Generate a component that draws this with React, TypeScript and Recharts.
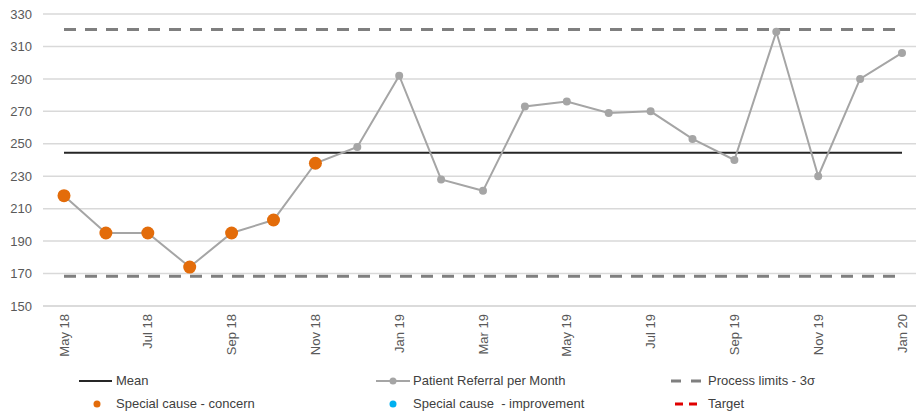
import {
  CartesianGrid,
  Legend,
  Line,
  LineChart,
  XAxis,
  YAxis,
} from 'recharts';

const months = [
  'May 18', 'Jun 18', 'Jul 18', 'Aug 18', 'Sep 18', 'Oct 18', 'Nov 18',
  'Dec 18', 'Jan 19', 'Feb 19', 'Mar 19', 'Apr 19', 'May 19', 'Jun 19',
  'Jul 19', 'Aug 19', 'Sep 19', 'Oct 19', 'Nov 19', 'Dec 19', 'Jan 20',
];
const referrals = [
  218, 195, 195, 174, 195, 203, 238, 248, 292, 228, 221, 273, 276, 269,
  270, 253, 240, 319, 230, 290, 306,
];
// special cause (concern) flags the first run of 7 months below the mean
const concern: (number | null)[] = [
  218, 195, 195, 174, 195, 203, 238, null, null, null, null, null, null, null,
  null, null, null, null, null, null, null,
];
const meanValue = 244.4;
const upperLimit = 320.5;
const lowerLimit = 168.3;
const yTicks = [150, 170, 190, 210, 230, 250, 270, 290, 310, 330];

const data = months.map((month, i) => ({
  month,
  referrals: referrals[i],
  concern: concern[i],
  mean: meanValue,
  upper: upperLimit,
  lower: lowerLimit,
}));

const FONT = '"Liberation Sans", Arial, sans-serif';
const TEXT = '#595959';

function MonthTick(props: any) {
  const { x, y, payload } = props;
  return (
    <text
      x={x}
      y={y}
      transform={`rotate(-90 ${x} ${y})`}
      textAnchor="end"
      dy="0.35em"
      fill={TEXT}
      fontSize={13}
      fontFamily={FONT}
    >
      {payload.value}
    </text>
  );
}

function LegendIcon({ kind }: { kind: string }) {
  return (
    <svg width={34} height={12} style={{ position: 'absolute', left: 0, top: -6 }}>
      {kind === 'mean' && <line x1={0} y1={6} x2={33} y2={6} stroke="#262626" strokeWidth={2} />}
      {kind === 'series' && (
        <>
          <line x1={0} y1={6} x2={34} y2={6} stroke="#a5a5a5" strokeWidth={2} />
          <circle cx={17} cy={6} r={3.5} fill="#a5a5a5" />
        </>
      )}
      {kind === 'limits' && (
        <line x1={1} y1={6} x2={34} y2={6} stroke="#7f7f7f" strokeWidth={3} strokeDasharray="10 10" />
      )}
      {kind === 'concern' && <circle cx={18} cy={6} r={3.5} fill="#e36c0a" />}
      {kind === 'improvement' && <circle cx={17} cy={6} r={3.5} fill="#00b0f0" />}
      {kind === 'target' && (
        <line x1={5} y1={6} x2={28} y2={6} stroke="#e00000" strokeWidth={3} strokeDasharray="8 6" />
      )}
    </svg>
  );
}

const legendItems = [
  { label: 'Mean', kind: 'mean', left: 79, top: 15 },
  { label: 'Patient Referral per Month', kind: 'series', left: 376, top: 15 },
  { label: 'Process limits - 3σ', kind: 'limits', left: 670, top: 15 },
  { label: 'Special cause - concern', kind: 'concern', left: 79, top: 38 },
  { label: 'Special cause  - improvement', kind: 'improvement', left: 376, top: 38 },
  { label: 'Target', kind: 'target', left: 670, top: 38 },
];

function ChartLegend() {
  return (
    <div style={{ position: 'relative', width: 918, height: 48, fontFamily: FONT, fontSize: 13, color: '#404040' }}>
      {legendItems.map((item) => (
        <div key={item.label} style={{ position: 'absolute', left: item.left, top: item.top }}>
          <LegendIcon kind={item.kind} />
          <span
            style={{
              position: 'absolute',
              left: item.kind === 'limits' || item.kind === 'target' ? 38 : 37,
              top: -8,
              whiteSpace: 'pre',
              lineHeight: '16px',
            }}
          >
            {item.label}
          </span>
        </div>
      ))}
    </div>
  );
}

export default function App() {
  return (
    <div style={{ position: 'absolute', left: 0, top: 0, width: 918, height: 414, background: '#fff' }}>
      <LineChart width={918} height={414} data={data} margin={{ top: 14, right: 2, bottom: 0, left: 0 }}>
        <CartesianGrid vertical={false} stroke="#d9d9d9" strokeWidth={1.5} />
        <XAxis
          dataKey="month"
          interval={1}
          height={60}
          tickLine={false}
          axisLine={{ stroke: '#d9d9d9', strokeWidth: 1.5 }}
          padding={{ left: 21, right: 14 }}
          tick={<MonthTick />}
        />
        <YAxis
          domain={[150, 330]}
          ticks={yTicks}
          width={43}
          tickLine={false}
          axisLine={false}
          tickMargin={5}
          tick={{ fill: TEXT, fontSize: 13, fontFamily: FONT }}
        />
        <Legend verticalAlign="bottom" wrapperStyle={{ left: 0, width: 918 }} content={() => <ChartLegend />} />
        <Line dataKey="upper" stroke="#7f7f7f" strokeWidth={3} strokeDasharray="12 9" dot={false} isAnimationActive={false} />
        <Line dataKey="lower" stroke="#7f7f7f" strokeWidth={3} strokeDasharray="12 9" dot={false} isAnimationActive={false} />
        <Line dataKey="mean" stroke="#262626" strokeWidth={2} dot={false} isAnimationActive={false} />
        <Line
          dataKey="referrals"
          stroke="#a5a5a5"
          strokeWidth={2}
          dot={{ r: 4, fill: '#a5a5a5', stroke: 'none' }}
          isAnimationActive={false}
        />
        <Line
          dataKey="concern"
          stroke="none"
          dot={{ r: 6.5, fill: '#e36c0a', stroke: 'none' }}
          isAnimationActive={false}
        />
      </LineChart>
    </div>
  );
}
